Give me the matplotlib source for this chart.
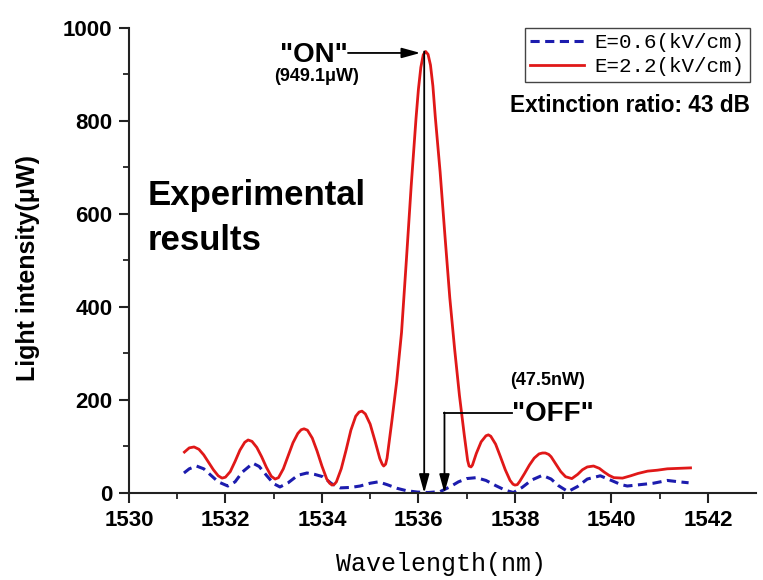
import matplotlib
matplotlib.use('Agg')
import matplotlib.pyplot as plt

# transmission spectra of the switch at two applied fields
wl_on = [1531.15, 1531.25, 1531.35, 1531.45, 1531.55, 1531.65, 1531.75, 1531.85, 1531.93,
         1532.0, 1532.1, 1532.2, 1532.3, 1532.4, 1532.47, 1532.55, 1532.65, 1532.75, 1532.85,
         1532.95, 1533.03, 1533.1, 1533.2, 1533.3, 1533.4, 1533.5, 1533.57, 1533.63, 1533.7,
         1533.8, 1533.9, 1534.0, 1534.1, 1534.16, 1534.21, 1534.26, 1534.3, 1534.4, 1534.5,
         1534.6, 1534.7, 1534.77, 1534.83, 1534.9, 1535.0, 1535.1, 1535.2, 1535.25, 1535.28,
         1535.32, 1535.35, 1535.45, 1535.55, 1535.65, 1535.75, 1535.85, 1535.95, 1536.0,
         1536.05, 1536.1, 1536.15, 1536.2, 1536.25, 1536.3, 1536.35, 1536.45, 1536.55,
         1536.65, 1536.75, 1536.85, 1536.95, 1537.02, 1537.05, 1537.09, 1537.12, 1537.2,
         1537.3, 1537.4, 1537.45, 1537.5, 1537.6, 1537.7, 1537.8, 1537.9, 1537.96, 1538.0,
         1538.05, 1538.1, 1538.2, 1538.3, 1538.4, 1538.5, 1538.57, 1538.63, 1538.7, 1538.75,
         1538.85, 1538.95, 1539.05, 1539.18, 1539.3, 1539.4, 1539.5, 1539.63, 1539.75,
         1539.85, 1539.95, 1540.05, 1540.23, 1540.4, 1540.55, 1540.75, 1540.95, 1541.16,
         1541.4, 1541.64]
int_on = [88, 97, 99, 94, 82, 66, 50, 37, 32,
          34, 46, 68, 92, 109, 114, 111, 98, 78, 55,
          36, 30, 33, 52, 80, 108, 128, 136, 138, 135,
          118, 90, 58, 30, 21, 17, 19, 24, 52, 92,
          135, 165, 174, 176, 170, 148, 112, 74, 62, 58,
          62, 75, 155, 240, 345, 500, 660, 805, 868,
          915, 942, 949.1, 943, 920, 875, 808, 690, 553,
          420, 310, 210, 125, 70, 58, 56, 60, 85,
          110, 123, 125, 122, 105, 78, 50, 27, 19, 17,
          18, 25, 42, 60, 75, 84, 86, 86, 83, 78,
          62, 46, 35, 31, 40, 50, 56, 58, 53,
          45, 38, 33, 32, 37, 42, 47, 49, 52,
          53, 54]

wl_off = [1531.14, 1531.25, 1531.4, 1531.55, 1531.7, 1531.85, 1532.05, 1532.2, 1532.35,
          1532.57, 1532.7, 1532.85, 1533.0, 1533.13, 1533.3, 1533.5, 1533.69, 1533.85,
          1534.02, 1534.2, 1534.38, 1534.6, 1534.79, 1535.0, 1535.17, 1535.35, 1535.56,
          1535.75, 1535.98, 1536.2, 1536.45, 1536.65, 1536.83, 1537.0, 1537.2, 1537.4,
          1537.6, 1537.8, 1537.97, 1538.15, 1538.35, 1538.57, 1538.75, 1538.9, 1539.1,
          1539.3, 1539.5, 1539.77, 1540.0, 1540.2, 1540.33, 1540.6, 1540.87, 1541.16,
          1541.4, 1541.6]
int_off = [43, 52, 58, 52, 38, 24, 15, 24, 45,
           64, 57, 38, 20, 13, 22, 38, 43, 40,
           35, 20, 11, 12, 15, 21, 24, 18, 10,
           5, 2, 1, 3, 13, 24, 31, 33, 27,
           16, 6, 1, 12, 28, 38, 30, 16, 3,
           14, 30, 37, 27, 18, 15, 18, 21, 27,
           24, 22]

labels = ['E=0.6(kV/cm)', 'E=2.2(kV/cm)']
x_ticks = [1530, 1532, 1534, 1536, 1538, 1540, 1542]
y_ticks = [0, 200, 400, 600, 800, 1000]

on_peak = (1536.12, 949.1)
off_mark = (1536.54, 173)

fig = plt.figure(figsize=(7.63, 5.8), dpi=100)
ax = fig.add_axes([0.169, 0.150, 0.822, 0.802])

ax.plot(wl_off, int_off, color='#1c1cae', lw=2.2, dashes=(3, 1.8), label=labels[0])
ax.plot(wl_on, int_on, color='#e01818', lw=2.0, label=labels[1])

ax.set_xlim(1530, 1543)
ax.set_ylim(0, 1000)
ax.set_xticks(x_ticks)
ax.set_yticks(y_ticks)
ax.set_xticks(range(1531, 1543, 2), minor=True)
ax.set_yticks(range(100, 1000, 200), minor=True)
for s in ['top', 'right']:
    ax.spines[s].set_visible(False)
for s in ['left', 'bottom']:
    ax.spines[s].set_linewidth(1.5)
    ax.spines[s].set_color('#222222')
ax.tick_params(which='major', direction='out', length=7, width=1.5, pad=5,
               labelsize=16, colors='#222222')
ax.tick_params(which='minor', direction='out', length=4, width=1.3, colors='#222222')
for lbl in ax.get_xticklabels() + ax.get_yticklabels():
    lbl.set_fontfamily('Liberation Sans')
    lbl.set_fontweight('bold')
    lbl.set_color('black')

fig.text(28 / 763, 1 - 268 / 580, 'Light intensity(μW)', rotation=90,
         ha='center', va='center', fontsize=18, fontweight='bold',
         family='Liberation Sans')
fig.text(441 / 763, 1 - 564 / 580, 'Wavelength(nm)', ha='center', va='center',
         fontsize=18, family='Liberation Mono')

leg = ax.legend(loc='upper right', bbox_to_anchor=(750 / 763, 1 - 28 / 580),
                bbox_transform=fig.transFigure, prop={'family': 'Liberation Mono', 'size': 15},
                handlelength=2.6, handletextpad=0.5, borderpad=0.25, labelspacing=0.25,
                fancybox=False, framealpha=1, borderaxespad=0)
leg.get_frame().set_edgecolor('#444444')
leg.get_frame().set_linewidth(1.0)

ax.text(1537.9, 819, 'Extinction ratio: 43 dB', fontsize=16.3, fontweight='bold',
        family='Liberation Sans', va='baseline')

ax.text(1530.39, 619, 'Experimental', fontsize=25, fontweight='bold',
        family='Liberation Sans', va='baseline')
ax.text(1530.39, 523, 'results', fontsize=25, fontweight='bold',
        family='Liberation Sans', va='baseline')

# "ON" label with arrow pointing at the peak
ax.text(1533.84, 927, '"ON"', fontsize=20, fontweight='bold', family='Liberation Sans',
        ha='center', va='baseline')
ax.text(1533.88, 886, '(949.1μW)', fontsize=13, fontweight='bold', family='Liberation Sans',
        ha='center', va='baseline')
arrow = dict(arrowstyle='-|>,head_length=0.8,head_width=0.22', color='black', lw=1.3,
             shrinkA=0, shrinkB=0, mutation_scale=14)
ax.annotate('', xy=(1536.04, 946), xytext=(1534.54, 946), arrowprops=arrow)
ax.annotate('', xy=(on_peak[0], 0), xytext=on_peak, arrowprops=arrow)

# "OFF" label with elbow arrow down to the baseline
ax.plot([off_mark[0], 1537.94], [off_mark[1], off_mark[1]], color='black', lw=1.3)
ax.annotate('', xy=(off_mark[0], 0), xytext=off_mark, arrowprops=arrow)
ax.text(1537.95, 155, '"OFF"', fontsize=20, fontweight='bold', family='Liberation Sans',
        va='baseline')
ax.text(1537.9, 232, '(47.5nW)', fontsize=13, fontweight='bold', family='Liberation Sans',
        va='baseline')

plt.savefig('out.png', dpi=100)
